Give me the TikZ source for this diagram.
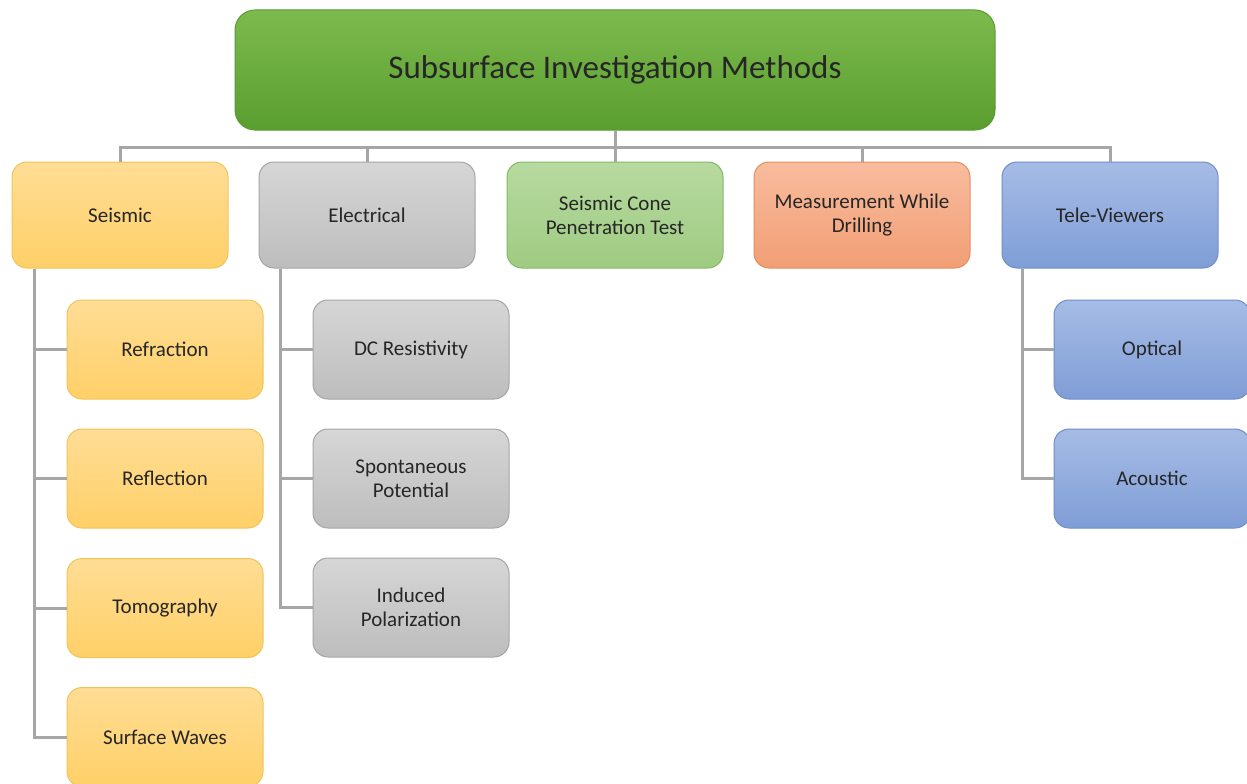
\documentclass[tikz,border=0pt]{standalone}
\usepackage{fontspec}
\setmainfont{Carlito}
\usetikzlibrary{positioning}
\definecolor{conncol}{HTML}{A6A6A6}
\definecolor{txtcol}{HTML}{262626}
\definecolor{rootA}{HTML}{7DBA4E}
\definecolor{rootB}{HTML}{5A9E2F}
\definecolor{rootD}{HTML}{5A9A34}
\definecolor{orA}{HTML}{FFDD95}
\definecolor{orB}{HTML}{FFD068}
\definecolor{orD}{HTML}{F0C45A}
\definecolor{grA}{HTML}{D6D6D6}
\definecolor{grB}{HTML}{BDBDBD}
\definecolor{grD}{HTML}{A5A5A5}
\definecolor{lgA}{HTML}{B7DAA0}
\definecolor{lgB}{HTML}{9FCB82}
\definecolor{lgD}{HTML}{84BA63}
\definecolor{saA}{HTML}{F8BC9E}
\definecolor{saB}{HTML}{F29E74}
\definecolor{saD}{HTML}{E38E62}
\definecolor{blA}{HTML}{A6BCE6}
\definecolor{blB}{HTML}{7F9DD6}
\definecolor{blD}{HTML}{6F8DC8}
\tikzset{
  conn/.style={draw=conncol, line width=3pt},
  box/.style={rectangle, rounded corners=15pt, line width=1pt, align=center,
    text=txtcol, font=\fontsize{21}{24}\selectfont, inner sep=2pt},
  lvl/.style={box, minimum width=216pt, minimum height=106pt},
  sub/.style={box, minimum width=196pt, minimum height=99pt},
  orange/.style={draw=orD, top color=orA, bottom color=orB},
  gray/.style={draw=grD, top color=grA, bottom color=grB},
  lgreen/.style={draw=lgD, top color=lgA, bottom color=lgB},
  salmon/.style={draw=saD, top color=saA, bottom color=saB},
  blue/.style={draw=blD, top color=blA, bottom color=blB},
}
\begin{document}
\begin{tikzpicture}[x=1pt,y=-1pt]
\useasboundingbox (0,0) rectangle (1247,784);
\fill[white] (0,0) rectangle (1247,784);
% root
\node[box, rounded corners=20pt, minimum width=760pt, minimum height=120pt,
  draw=rootD, top color=rootA, bottom color=rootB,
  font=\fontsize{33}{38}\selectfont] (root) at (615,70) {Subsurface Investigation Methods};
\coordinate (bus) at (615,147);
% level 1
\node[lvl, orange] (seis) at (120,215) {Seismic};
\node[lvl, gray] (elec) at (367,215) {Electrical};
\node[lvl, lgreen] (scpt) at (615,215) {Seismic Cone\\Penetration Test};
\node[lvl, salmon] (mwd) at (862,215) {Measurement While\\Drilling};
\node[lvl, blue] (tele) at (1110,215) {Tele-Viewers};
% seismic children
\node[sub, orange] (refr) at (165,349.5) {Refraction};
\node[sub, orange] (refl) at (165,478.5) {Reflection};
\node[sub, orange] (tomo) at (165,608) {Tomography};
\node[sub, orange] (surf) at (165,737) {Surface Waves};
% electrical children
\node[sub, gray] (dcr) at (411,349.5) {DC Resistivity};
\node[sub, gray] (spp) at (411,478.5) {Spontaneous\\Potential};
\node[sub, gray] (ipol) at (411,607.5) {Induced\\Polarization};
% tele-viewer children
\node[sub, blue] (opt) at (1152,349.5) {Optical};
\node[sub, blue] (aco) at (1152,478.5) {Acoustic};
% connectors
\begin{scope}[on background layer/.try]
\end{scope}
\draw[conn] (root.south) -- (bus);
\draw[conn] (seis.north) |- (bus);
\draw[conn] (elec.north) |- (bus);
\draw[conn] (scpt.north) -- (bus);
\draw[conn] (mwd.north) |- (bus);
\draw[conn] (tele.north) |- (bus);
\foreach \c in {refr,refl,tomo,surf}
  \draw[conn] ([xshift=23pt]seis.south west) |- (\c.west);
\foreach \c in {dcr,spp,ipol}
  \draw[conn] ([xshift=22pt]elec.south west) |- (\c.west);
\foreach \c in {opt,aco}
  \draw[conn] ([xshift=21pt]tele.south west) |- (\c.west);
\end{tikzpicture}
\end{document}
